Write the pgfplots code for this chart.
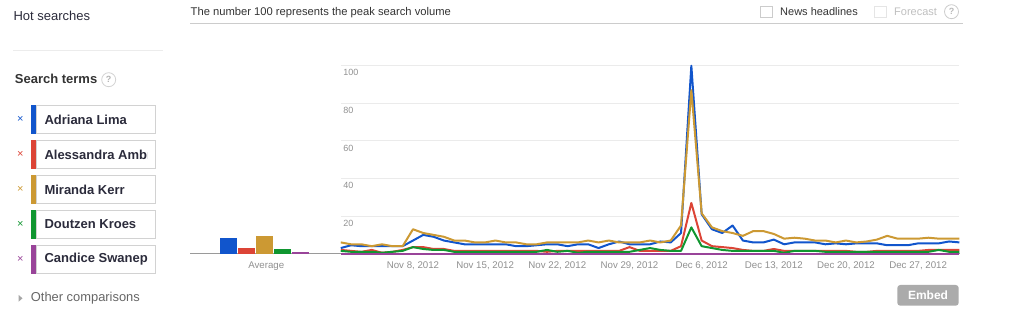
\documentclass[border=0pt]{standalone}
\usepackage{fontspec}
\setmainfont{Liberation Sans}
\usepackage{pgfplots}
\usepackage{pgfplotstable}
\pgfplotsset{compat=1.18}
\definecolor{cblue}{HTML}{1155CC}
\definecolor{cred}{HTML}{DC4436}
\definecolor{cgold}{HTML}{CC9933}
\definecolor{cgreen}{HTML}{109630}
\definecolor{cpurple}{HTML}{994499}
\definecolor{gridgray}{HTML}{EBEBEB}
\definecolor{labelgray}{HTML}{909090}
\definecolor{basegray}{HTML}{9A9A9A}
\definecolor{rulegray}{HTML}{CCCCCC}
\definecolor{hdr}{HTML}{333333}
\definecolor{termtext}{HTML}{2B2B3B}
\definecolor{embedgray}{HTML}{ABABAB}
\pgfplotstableread{
d blue red gold green purple
0 3 2 6 1.5 0
1 4.5 1.5 5 1 0
2 4 1 5 1 0
3 4 2 4 1 0
4 4 0.5 5 0.5 0
5 4 1 4 1 0
6 4 2 4 1.5 0
7 7 3.5 13 3.5 0
8 10 3.5 11 2.5 0
9 9 2.5 10 2 0
10 7 2.5 9 2 0
11 6 1.5 7 1 0
12 5 1.5 7 1 0
13 5 1.5 6 1 0
14 5 1.5 6 1 0
15 5 1.5 7 1 0
16 5 1.5 6 1 0
17 4 1.5 6 1 0
18 4 1.5 5 1 0
19 4.5 1.5 5 1 0
20 5 1 6 2 0
21 5 1.5 6 1 0
22 4 1.5 6 1.5 0
23 5 1.5 6 0.5 0
24 5 1.5 7 1 0
25 3 1.5 6 1 0
26 5 1.5 7 1 0
27 6.5 1.5 6 1 0
28 5 3.5 6 1 0
29 5 1.5 6 2 0
30 5 1.5 7 3 0
31 6.5 1.5 6 2 0
32 6 1.5 7 1.5 0
33 11 4 15 1.5 0
34 100 27 87 14 0
35 21 7 21.5 4 0
36 13 4 14 3 0
37 11 3.5 12 2 0
38 15 3 11 1.5 0
39 7 2 9.5 1.5 0
40 6 1.5 12 1.5 0
41 6 1.5 12 1.5 0
42 7.5 2.5 10.5 1.5 0
43 5 1.5 8 0.5 0
44 6 1.5 8.5 1.5 0
45 6 1.5 8 1.5 0
46 6 1.5 7 1.5 0
47 5 1.5 7 1 0
48 5.5 1.5 6 1 0
49 5 1.5 7 1 0
50 5.5 1 6 1 0
51 5.5 1 6.5 1 0
52 5.5 1.5 7.5 1 0
53 4.5 1.5 9.5 1 0
54 4.5 1.5 8 1 0
55 4.5 1.5 8 1 0
56 5.5 1.5 8 1 0
57 5.5 2 8.5 1 0
58 5.5 2 8 2 0
59 6.5 2 8 1 0
60 6 2 8 1 0
}\trends
\pgfplotstableread{
x avg
0.5 8.5
1.5 3.2
2.5 9.6
3.5 2.7
4.5 0.7
}\averages
\begin{document}
\begin{tikzpicture}
\begin{scope}[x=1pt,y=1pt]
\path[use as bounding box] (0,0) rectangle (1011,329);
% header
\node[anchor=west, inner sep=0, font=\fontsize{11.2}{13}\selectfont, text=hdr] at (190.5,316.3) {The number 100 represents the peak search volume};
\draw[rulegray, line width=1pt] (190,305) -- (963,305);
\draw[rulegray, line width=0.8pt] (760.3,322.3) rectangle (772.3,311.3);
\node[anchor=west, inner sep=0, font=\fontsize{11}{13}\selectfont, text=hdr] at (780,317.3) {News headlines};
\draw[gray!20, line width=0.8pt] (874.3,322.3) rectangle (886.3,311.3);
\node[anchor=west, inner sep=0, font=\fontsize{11}{13}\selectfont, text=gray!50] at (894,317.3) {Forecast};
\draw[gray!40, line width=0.8pt] (951.5,317.3) circle (7);
\node[inner sep=0, font=\fontsize{9}{10}\selectfont\bfseries, text=gray!55] at (951.5,317.3) {?};
% left panel
\node[anchor=west, inner sep=0, font=\fontsize{13}{15}\selectfont, text=termtext] at (13.3,313.3) {Hot searches};
\draw[gray!15, line width=1pt] (13,278.3) -- (162.7,278.3);
\node[anchor=west, inner sep=0, font=\fontsize{13}{15}\selectfont\bfseries, text=hdr] at (14.7,250) {Search terms};
\draw[gray!35, line width=0.8pt] (108.7,249.3) circle (7);
\node[inner sep=0, font=\fontsize{9}{10}\selectfont\bfseries, text=gray!60] at (108.7,249.3) {?};
\foreach \i/\c/\t in {0/cblue/Adriana Lima,1/cred/Alessandra Ambrosio,2/cgold/Miranda Kerr,3/cgreen/Doutzen Kroes,4/cpurple/Candice Swanepoel}{
  \pgfmathsetmacro{\top}{223.7-35*\i}
  \pgfmathsetmacro{\bot}{195.4-35*\i}
  \pgfmathsetmacro{\mid}{209.55-35*\i}
  \draw[gray!35, line width=0.8pt] (36,\bot) rectangle (155.3,\top);
  \fill[\c] (31,\bot) rectangle (36,\top);
  \node[inner sep=0, font=\fontsize{11}{12}\selectfont, text=\c] at (20.3,\mid) {×};
  \begin{scope}
    \clip (37,\bot) rectangle (147.5,\top);
    \node[anchor=west, inner sep=0, font=\fontsize{13}{15}\selectfont\bfseries, text=termtext] at (44.3,\mid) {\t};
  \end{scope}
}
\fill[gray!70] (18.7,34) -- (18.7,27.4) -- (22.5,30.7) -- cycle;
\node[anchor=west, inner sep=0, font=\fontsize{12.9}{15}\selectfont, text=gray!80!black] at (30.7,30.7) {Other comparisons};
% embed button
\fill[embedgray, rounded corners=3pt] (897.3,44) rectangle (958.7,23.3);
\node[inner sep=0, font=\fontsize{12}{14}\selectfont\bfseries, text=white] at (928,33.6) {Embed};
% baseline
\draw[basegray, line width=1pt] (190,75.3) -- (960,75.3);
\end{scope}
% average bars
\begin{axis}[
  at={(219.5pt,75.3pt)}, anchor=south west, scale only axis,
  width=90pt, height=188pt,
  xmin=0, xmax=5, ymin=0, ymax=100,
  axis line style={draw=none}, tick style={draw=none},
  ytick=\empty, xtick={2.6}, xticklabels={Average},
  xticklabel style={anchor=base, yshift=-15pt, font=\fontsize{9.7}{11}\selectfont, text=labelgray},
  clip=false]
\addplot[ybar, bar width=17pt, bar shift=0pt, fill=cblue, draw=none] coordinates {(0.5,8.5)};
\addplot[ybar, bar width=17pt, bar shift=0pt, fill=cred, draw=none] coordinates {(1.5,3.2)};
\addplot[ybar, bar width=17pt, bar shift=0pt, fill=cgold, draw=none] coordinates {(2.5,9.6)};
\addplot[ybar, bar width=17pt, bar shift=0pt, fill=cgreen, draw=none] coordinates {(3.5,2.7)};
\addplot[ybar, bar width=17pt, bar shift=0pt, fill=cpurple, draw=none] coordinates {(4.5,0.7)};
\end{axis}
% main chart
\begin{axis}[
  at={(340.8pt,75.3pt)}, anchor=south west, scale only axis,
  width=618.6pt, height=188pt,
  xmin=0, xmax=60, ymin=0, ymax=100,
  axis line style={draw=none}, tick style={draw=none},
  ytick={20,40,60,80,100}, ymajorgrids,
  grid style={draw=gridgray, line width=1pt},
  /pgf/number format/assume math mode=true,
  yticklabel style={anchor=base west, xshift=-1pt, yshift=-10.3pt, font=\fontsize{9}{10}\selectfont, text=labelgray},
  xtick={7,14,21,28,35,42,49,56},
  xticklabels={{Nov 8, 2012},{Nov 15, 2012},{Nov 22, 2012},{Nov 29, 2012},{Dec 6, 2012},{Dec 13, 2012},{Dec 20, 2012},{Dec 27, 2012}},
  xticklabel style={anchor=base, yshift=-15pt, font=\fontsize{9.7}{11}\selectfont, text=labelgray},
  clip=false]
\addplot[cblue, line width=2pt, line join=round] table[x=d,y=blue]{\trends};
\addplot[cred, line width=2pt, line join=round] table[x=d,y=red]{\trends};
\addplot[cgold, line width=2pt, line join=round] table[x=d,y=gold]{\trends};
\addplot[cgreen, line width=2pt, line join=round] table[x=d,y=green]{\trends};
\addplot[cpurple, line width=2pt, line join=round] table[x=d,y=purple]{\trends};
\end{axis}
\end{tikzpicture}
\end{document}
